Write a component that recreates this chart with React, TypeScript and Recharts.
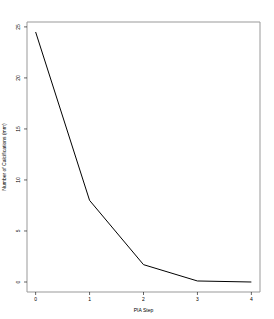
import React from 'react';
import { LineChart, Line, XAxis, YAxis, ReferenceArea } from 'recharts';

const steps = [0, 1, 2, 3, 4];
const calcifications = [24.5, 8.0, 1.7, 0.1, 0.0];
const xTicks = [0, 1, 2, 3, 4];
const yTicks = [0, 5, 10, 15, 20, 25];

const data = steps.map((s, i) => ({ step: s, value: calcifications[i] }));

const font = '"Liberation Sans", Arial, sans-serif';

// y tick: props.x is at 27 - 3 - 2 = 22
const YTick = (props: any) => {
    const { x, y, payload } = props;
    const cx = x - 4;
    return (
        <text
            x={cx}
            y={y + 1.7}
            transform={`rotate(-90, ${cx}, ${y})`}
            textAnchor="middle"
            fontSize={5}
            fontFamily={font}
            fill="#000"
        >
            {payload.value}
        </text>
    );
};

const XTick = (props: any) => {
    const { x, y, payload } = props;
    return (
        <text x={x} y={y + 3.5} textAnchor="middle" fontSize={5} fontFamily={font} fill="#000">
            {payload.value}
        </text>
    );
};

export default function App() {
    return (
        <div style={{ position: 'fixed', left: 0, top: 0, width: 274, height: 319, background: '#fff' }}>
            <LineChart
                width={274}
                height={319}
                data={data}
                margin={{ top: 22, right: 14, left: 0, bottom: 0 }}
            >
                <XAxis
                    dataKey="step"
                    type="number"
                    domain={[-0.16, 4.16]}
                    ticks={xTicks}
                    height={27}
                    axisLine={false}
                    tickSize={3}
                    tickLine={{ stroke: '#000', strokeWidth: 0.6 }}
                    tick={<XTick />}
                    label={{
                        value: 'PIA Step',
                        position: 'insideBottom',
                        offset: 7,
                        fontSize: 5,
                        fontFamily: font,
                        fill: '#000',
                    }}
                />
                <YAxis
                    type="number"
                    domain={[-0.98, 25.48]}
                    ticks={yTicks}
                    width={27}
                    axisLine={false}
                    tickSize={3}
                    tickLine={{ stroke: '#000', strokeWidth: 0.6 }}
                    tick={<YTick />}
                    label={{
                        value: 'Number of Calcifications (mm)',
                        angle: -90,
                        position: 'insideLeft',
                        offset: 4,
                        fontSize: 5,
                        fontFamily: font,
                        fill: '#000',
                        style: { textAnchor: 'middle' },
                    }}
                />
                <ReferenceArea
                    x1={-0.16}
                    x2={4.16}
                    y1={-0.98}
                    y2={25.48}
                    fill="none"
                    stroke="#999"
                    strokeWidth={1}
                    ifOverflow="visible"
                />
                <Line
                    type="linear"
                    dataKey="value"
                    stroke="#000"
                    strokeWidth={1}
                    dot={false}
                    isAnimationActive={false}
                />
            </LineChart>
        </div>
    );
}
